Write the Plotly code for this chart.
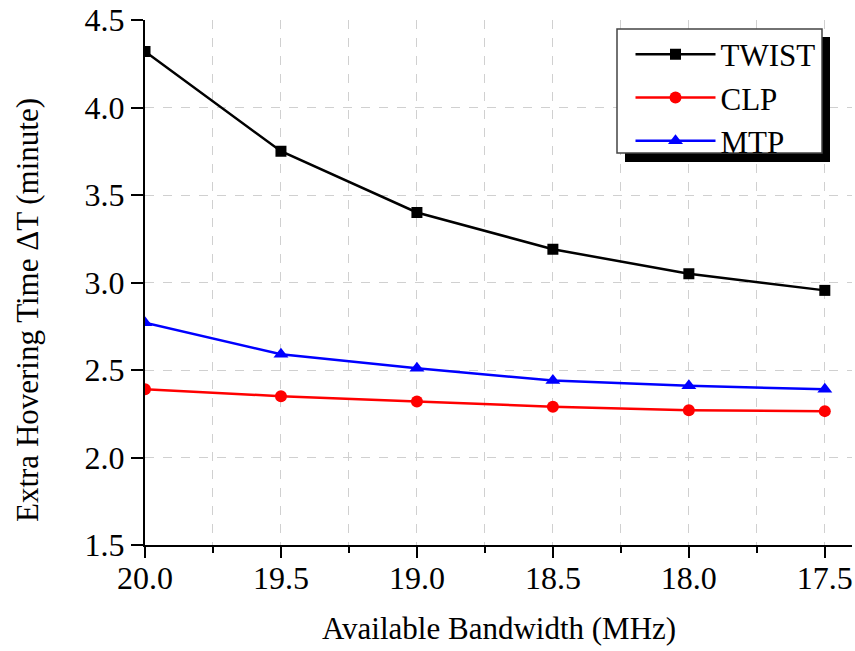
import plotly.graph_objects as go

bandwidth = [20.0, 19.5, 19.0, 18.5, 18.0, 17.5]
twist = [4.32, 3.75, 3.40, 3.19, 3.05, 2.955]
clp = [2.39, 2.35, 2.32, 2.29, 2.27, 2.265]
mtp = [2.77, 2.59, 2.51, 2.44, 2.41, 2.39]
x_ticks = [20.0, 19.5, 19.0, 18.5, 18.0, 17.5]
x_tick_labels = ["20.0", "19.5", "19.0", "18.5", "18.0", "17.5"]
y_ticks = [1.5, 2.0, 2.5, 3.0, 3.5, 4.0, 4.5]
y_tick_labels = ["1.5", "2.0", "2.5", "3.0", "3.5", "4.0", "4.5"]
x_title = "Available Bandwidth (MHz)"
y_title = "Extra Hovering Time ΔT (minute)"

FONT = "Liberation Serif, Times New Roman, serif"

# plot-area geometry (px) used to place the legend frame and titles in paper coordinates
L, T, W, H = 145, 20, 707, 525
def px(x):
    return (x - L) / W
def py(y):
    return 1 - (y - T) / H

fig = go.Figure()
fig.add_trace(go.Scatter(x=bandwidth, y=twist, name="TWIST", mode="lines+markers",
                         line=dict(color="black", width=2.5),
                         marker=dict(symbol="square", size=11, color="black")))
fig.add_trace(go.Scatter(x=bandwidth, y=clp, name="CLP", mode="lines+markers",
                         line=dict(color="red", width=2.5),
                         marker=dict(symbol="circle", size=12, color="red")))
fig.add_trace(go.Scatter(x=bandwidth, y=mtp, name="MTP", mode="lines+markers",
                         line=dict(color="blue", width=2.5),
                         marker=dict(symbol="triangle-up", size=13, color="blue")))

fig.update_layout(
    width=855, height=651,
    margin=dict(l=L, r=855 - L - W, t=T, b=651 - T - H),
    paper_bgcolor="white", plot_bgcolor="white",
    font=dict(family=FONT, size=31, color="black"),
    showlegend=True,
    legend=dict(x=px(822), y=py(26), xanchor="right", yanchor="top",
                bgcolor="rgba(0,0,0,0)", bordercolor="rgba(0,0,0,0)", borderwidth=1.5,
                font=dict(family=FONT, size=31), tracegroupgap=0,
                itemwidth=80),
    shapes=[
        dict(type="rect", xref="paper", yref="paper",
             x0=px(625), x1=px(830), y0=py(162), y1=py(37),
             fillcolor="black", line=dict(width=0), layer="above"),
        dict(type="rect", xref="paper", yref="paper",
             x0=px(617), x1=px(822), y0=py(153), y1=py(29),
             fillcolor="white", line=dict(color="#444444", width=1.5), layer="above"),
    ],
    annotations=[
        dict(text=x_title, xref="paper", yref="paper", x=px(499), y=py(628),
             xanchor="center", yanchor="middle", showarrow=False,
             font=dict(family=FONT, size=31, color="black")),
        dict(text=y_title, xref="paper", yref="paper", x=px(27), y=py(310),
             xanchor="center", yanchor="middle", showarrow=False, textangle=-90,
             font=dict(family=FONT, size=31, color="black")),
    ],
)
fig.update_xaxes(
    range=[20.0, 17.4], tickvals=x_ticks, ticktext=x_tick_labels,
    showline=True, linecolor="black", linewidth=2,
    ticks="outside", ticklen=11, tickwidth=2, tickcolor="black",
    showgrid=True, gridcolor="#d0d0d0", griddash="dash", gridwidth=1,
    minor=dict(dtick=0.25, tick0=17.5, ticks="outside", ticklen=6, tickwidth=2,
               tickcolor="black", showgrid=True, gridcolor="#d0d0d0", griddash="dash"),
    zeroline=False, mirror=False, automargin=False,
    ticklabelstandoff=-7,
    tickfont=dict(size=32),
)
fig.update_yaxes(
    range=[1.5, 4.5], tickvals=y_ticks, ticktext=y_tick_labels,
    showline=True, linecolor="black", linewidth=2,
    ticks="outside", ticklen=12, tickwidth=2, tickcolor="black",
    showgrid=True, gridcolor="#d0d0d0", griddash="dash", gridwidth=1,
    zeroline=False, mirror=False, automargin=False,
    tickfont=dict(size=32),
)

fig.write_html("out.html", config={"displayModeBar": False},
               post_script="document.body.style.margin='0px';")
